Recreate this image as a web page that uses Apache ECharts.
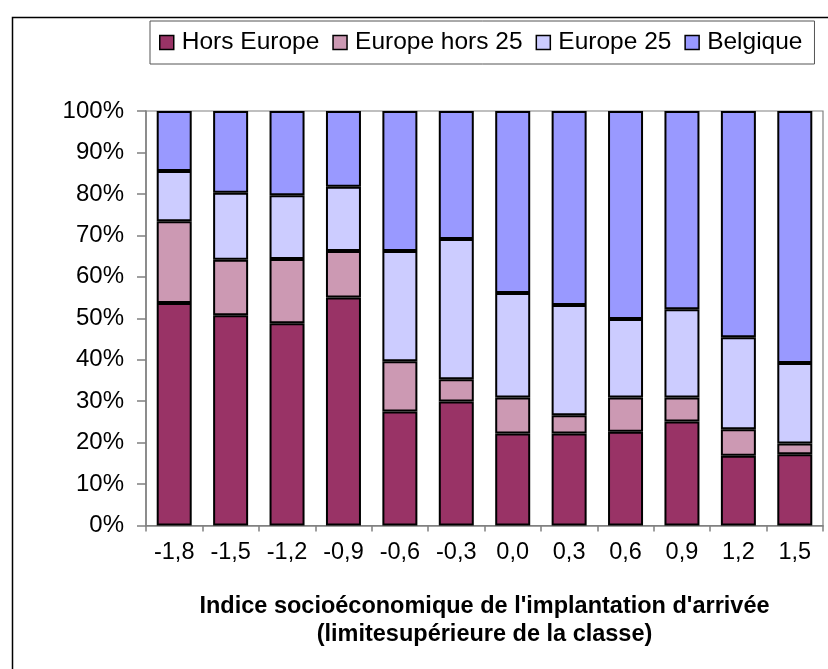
<!DOCTYPE html>
<html>
<head>
<meta charset="utf-8">
<script src="https://cdn.jsdelivr.net/npm/echarts@6/dist/echarts.min.js"></script>
<style>html,body{margin:0;padding:0;background:#fff;}#c{width:828px;height:669px;}</style>
</head>
<body>
<div id="c"></div>
<script>
var categories = ['-1,8','-1,5','-1,2','-0,9','-0,6','-0,3','0,0','0,3','0,6','0,9','1,2','1,5'];
var horsEurope = [53.7, 50.7, 48.8, 55.0, 27.5, 29.9, 22.2, 22.2, 22.6, 25.1, 16.8, 17.2];
var europeHors25 = [19.7, 13.4, 15.5, 11.2, 12.1, 5.4, 8.7, 4.4, 8.3, 5.8, 6.4, 2.6];
var europe25 = [12.1, 16.2, 15.4, 15.5, 26.6, 33.8, 25.2, 26.6, 18.9, 21.3, 22.2, 19.4];
var belgique = [14.5, 19.7, 20.3, 18.3, 33.8, 30.9, 43.9, 46.8, 50.2, 47.8, 54.6, 60.8];
var yTicks = [0, 10, 20, 30, 40, 50, 60, 70, 80, 90, 100];

var FONT = '"Liberation Sans", Arial, sans-serif';
function mk(name, data, color) {
  return {
    name: name, type: 'bar', stack: 'total', data: data, barWidth: 35,
    itemStyle: { color: color, borderColor: '#000', borderWidth: 2 }
  };
}
var chart = echarts.init(document.getElementById('c'), null, { renderer: 'canvas' });
chart.setOption({
  animation: false,
  textStyle: { fontFamily: FONT },
  graphic: [{
    type: 'rect', left: 10, top: 15, shape: { x: 0, y: 0, width: 830, height: 700 },
    style: { fill: 'none', stroke: '#000', lineWidth: 1.5 }, z: -1
  }],
  legend: {
    left: 150, top: 21, width: 666,
    padding: [9, 12, 9, 9],
    borderColor: '#555', borderWidth: 1,
    itemWidth: 14, itemHeight: 14, itemGap: 13,
    icon: 'rect',
    itemStyle: { borderColor: '#000', borderWidth: 1.5 },
    textStyle: { fontFamily: FONT, fontSize: 24.5, color: '#000', padding: [0, 0, 0, 3] },
    data: ['Hors Europe', 'Europe hors 25', 'Europe 25', 'Belgique']
  },
  grid: { left: 146, right: 5, top: 111, bottom: 143.5, show: true, borderColor: '#808080', borderWidth: 1.2 },
  xAxis: {
    type: 'category', data: categories,
    name: "Indice socioéconomique de l'implantation d'arrivée\n(limitesupérieure de la classe)",
    nameLocation: 'middle', nameGap: 67,
    nameTextStyle: { fontFamily: FONT, fontSize: 23.5, fontWeight: 'bold', color: '#000', lineHeight: 28 },
    axisLine: { lineStyle: { color: '#808080', width: 1.5 } },
    axisTick: { show: true, length: 6, alignWithLabel: false, lineStyle: { color: '#808080', width: 1.5 } },
    axisLabel: { fontFamily: FONT, fontSize: 23.5, color: '#000', margin: 15, interval: 0 }
  },
  yAxis: {
    type: 'value', min: 0, max: 100, interval: 10,
    axisLine: { show: true, lineStyle: { color: '#808080', width: 1.5 } },
    axisTick: { show: true, length: 9, lineStyle: { color: '#808080', width: 1.5 } },
    splitLine: { show: false },
    axisLabel: { fontFamily: FONT, fontSize: 24, color: '#000', margin: 22,
      formatter: function (v) { return yTicks.indexOf(v) >= 0 ? v + '%' : ''; } }
  },
  series: [
    mk('Hors Europe', horsEurope, '#993366'),
    mk('Europe hors 25', europeHors25, '#cc99b3'),
    mk('Europe 25', europe25, '#ccccff'),
    mk('Belgique', belgique, '#9999ff')
  ]
});
</script>
</body>
</html>
